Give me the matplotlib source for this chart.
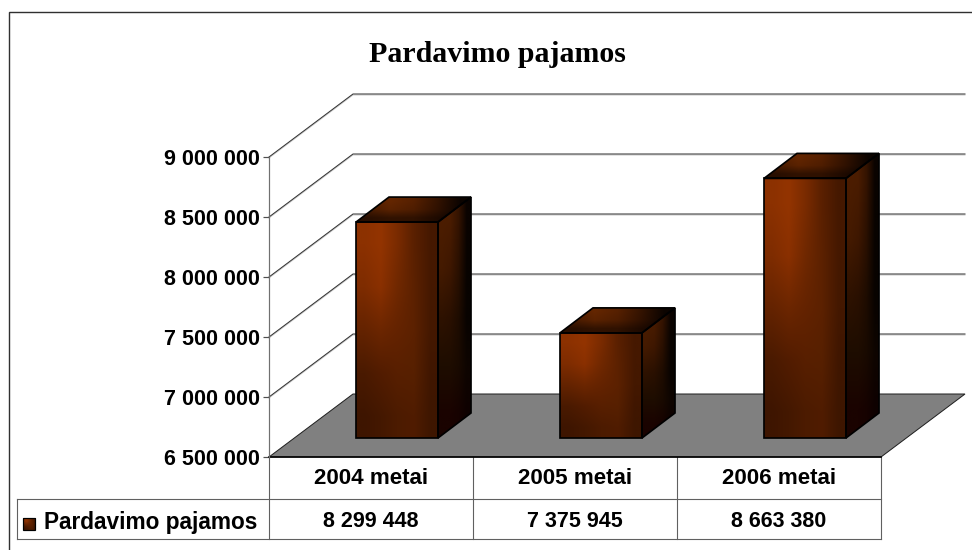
import numpy as np
import matplotlib
matplotlib.use("Agg")
import matplotlib.pyplot as plt
from matplotlib.colors import to_rgb
from matplotlib.patches import Polygon, Rectangle

title = "Pardavimo pajamos"
series_name = "Pardavimo pajamos"
categories = ["2004 metai", "2005 metai", "2006 metai"]
values = [8299448, 7375945, 8663380]
y_ticks = [6500000, 7000000, 7500000, 8000000, 8500000, 9000000]

W, H = 972, 550
SANS = "Liberation Sans"
SERIF = "Liberation Serif"
PX = 0.72  # one pixel in points

fig = plt.figure(figsize=(W / 100, H / 100), dpi=100, facecolor="white")

# overlay in pixel coordinates: frame, table
ov = fig.add_axes([0, 0, 1, 1], zorder=0)
ov.set_xlim(0, W); ov.set_ylim(H, 0); ov.axis("off")

# front plane of the plot
L, R, T, B = 269, 881, 157, 457
ax = fig.add_axes([L / W, 1 - B / H, (R - L) / W, (B - T) / H], zorder=1)
ax.patch.set_alpha(0)
ax.set_xlim(-0.5, 2.5)
ax.set_ylim(y_ticks[0], y_ticks[-1])
for s in ("top", "right", "bottom"):
    ax.spines[s].set_visible(False)
ax.spines["left"].set_color("#707070")
ax.spines["left"].set_linewidth(1.2 * PX)

ux = 3 / (R - L)                                  # data per pixel, x
uy = (y_ticks[-1] - y_ticks[0]) / (B - T)         # data per pixel, y


def P(x, v, dx=0, dy=0):
    """Category/value point shifted back by a pixel offset."""
    return (x + dx * ux, v + dy * uy)


base = y_ticks[0]
WALL_DX, WALL_DY = 84, 63

# floor
floor = Polygon([P(-.5, base), P(2.5, base), P(2.5, base, WALL_DX, WALL_DY), P(-.5, base, WALL_DX, WALL_DY)],
                closed=True, facecolor="#808080", edgecolor="#202020", lw=1.0 * PX, clip_on=False, zorder=1)
ax.add_patch(floor)
ax.plot([-.5, 2.5], [base, base], color="black", lw=1.6 * PX, clip_on=False, zorder=2)

# walls
for t in y_ticks[1:]:
    xs = [P(-.5, t)[0], P(-.5, t, WALL_DX, WALL_DY)[0], P(2.5, t, WALL_DX, WALL_DY)[0]]
    ys = [t, P(-.5, t, WALL_DX, WALL_DY)[1], P(2.5, t, WALL_DX, WALL_DY)[1]]
    ax.plot(xs, [y - 1.0 * uy for y in ys], color="#c8c8c8", lw=1 * PX, clip_on=False, zorder=0.5)
    ax.plot(xs, ys, color="#303030", lw=1 * PX, clip_on=False, zorder=0.6)


def grad(rows):
    return np.array([[to_rgb(c) for c in r] for r in rows])


FRONT = grad([
    ["#8c3100", "#933400", "#7a2b00", "#5a2000", "#451800"],
    ["#7e2c00", "#8a3000", "#702800", "#5c2100", "#451800"],
    ["#642300", "#6c2600", "#642300", "#5c2100", "#441800"],
    ["#4a1a00", "#521c00", "#581f00", "#572000", "#401600"],
    ["#3e1500", "#441800", "#4c1b00", "#501c00", "#3e1600"],
])
SIDE = grad([
    ["#4c1d00", "#4a1c00", "#341300", "#0a0300"],
    ["#441a00", "#3e1700", "#2a1000", "#080300"],
    ["#2e1200", "#2a1000", "#1e0c00", "#080300"],
    ["#1e0d00", "#1e0d00", "#190a00", "#0e0500"],
    ["#1a0300", "#1a0300", "#160200", "#0e0100"],
])
TOP = grad([
    ["#551f00", "#642600", "#562000", "#341300", "#0c0400"],
    ["#461a00", "#5a2200", "#4e1d00", "#301100", "#0c0400"],
    ["#280e00", "#311200", "#2f1100", "#1e0a00", "#080300"],
])


def face(target, verts, colors, z):
    xs, ys = zip(*verts)
    poly = Polygon(verts, closed=True, transform=target.transData, facecolor="none", edgecolor="none")
    target.add_patch(poly)
    im = target.imshow(colors, extent=(min(xs), max(xs), min(ys), max(ys)), origin="upper",
                       aspect="auto", interpolation="bilinear", zorder=z)
    im.set_clip_path(poly)
    im.set_clip_box(fig.bbox)
    return im


# bars
BAR_W = 0.402
OFF_DX, OFF_DY = 26, 19
D_DX, D_DY = 33, 25
x_pos = np.arange(len(categories))
for i, v in zip(x_pos, values):
    x0, x1 = i - BAR_W / 2, i + BAR_W / 2
    front = [P(x0, base, OFF_DX, OFF_DY), P(x1, base, OFF_DX, OFF_DY),
             P(x1, v, OFF_DX, OFF_DY), P(x0, v, OFF_DX, OFF_DY)]
    side = [P(x1, base, OFF_DX, OFF_DY), P(x1, base, OFF_DX + D_DX, OFF_DY + D_DY),
            P(x1, v, OFF_DX + D_DX, OFF_DY + D_DY), P(x1, v, OFF_DX, OFF_DY)]
    top = [P(x0, v, OFF_DX, OFF_DY), P(x1, v, OFF_DX, OFF_DY),
           P(x1, v, OFF_DX + D_DX, OFF_DY + D_DY), P(x0, v, OFF_DX + D_DX, OFF_DY + D_DY)]
    z = 3 + i
    face(ax, front, FRONT, z)
    face(ax, side, SIDE, z)
    face(ax, top, TOP, z)
    for verts in (front, side, top):
        ax.add_patch(Polygon(verts, closed=True, facecolor="none", edgecolor="black",
                             lw=1.7 * PX, joinstyle="miter", clip_on=False, zorder=z + 0.5))

ax.set_xlim(-0.5, 2.5)
ax.set_ylim(y_ticks[0], y_ticks[-1])

ax.set_yticks(y_ticks)
ax.set_yticklabels([f"{t:,}".replace(",", " ") for t in y_ticks], fontname=SANS, fontweight="bold",
                   fontsize=15.5, color="black")
ax.tick_params(axis="y", length=6 * PX, width=1.2 * PX, color="#505050", pad=3.5 * PX)
ax.set_xticks(x_pos)
ax.set_xticklabels(categories, fontname=SANS, fontweight="bold", fontsize=16.1, color="black")
ax.tick_params(axis="x", length=0, pad=11.5 * PX)

# frame (left and top edges only are visible)
ov.plot([9, 9, W], [H, 11.5, 11.5], color="#303030", lw=1.4 * PX, solid_joinstyle="miter")

# data table
GRID = "#606060"
cols = [269, 473, 677, 881]
for c in cols:
    ov.plot([c, c], [457, 539], color=GRID, lw=1.1 * PX)
ov.plot([17, 17], [499, 539], color=GRID, lw=1.1 * PX)
ov.plot([17, 881], [499, 499], color=GRID, lw=1.1 * PX)
ov.plot([17, 881], [539, 539], color=GRID, lw=1.1 * PX)

for k, v in enumerate(values):
    ov.text((cols[k] + cols[k + 1]) / 2, 519, f"{v:,}".replace(",", " "), ha="center", va="center_baseline",
            fontname=SANS, fontweight="bold", fontsize=15.5, color="black")
ov.text(44, 520, series_name, ha="left", va="center_baseline", fontname=SANS, fontweight="bold",
        fontsize=16.3, color="black")

# legend key
ov.imshow(FRONT, extent=(23, 35, 530, 518), origin="upper", aspect="auto", interpolation="bilinear", zorder=2)
ov.add_patch(Rectangle((23, 518), 12, 12, facecolor="none", edgecolor="black", lw=1.2 * PX, zorder=3))
ov.set_xlim(0, W); ov.set_ylim(H, 0)

ov.text(497, 54, title, ha="center", va="center", fontname=SERIF, fontweight="bold", fontsize=21.5, color="black")

fig.savefig("out.png", dpi=100, facecolor="white")
